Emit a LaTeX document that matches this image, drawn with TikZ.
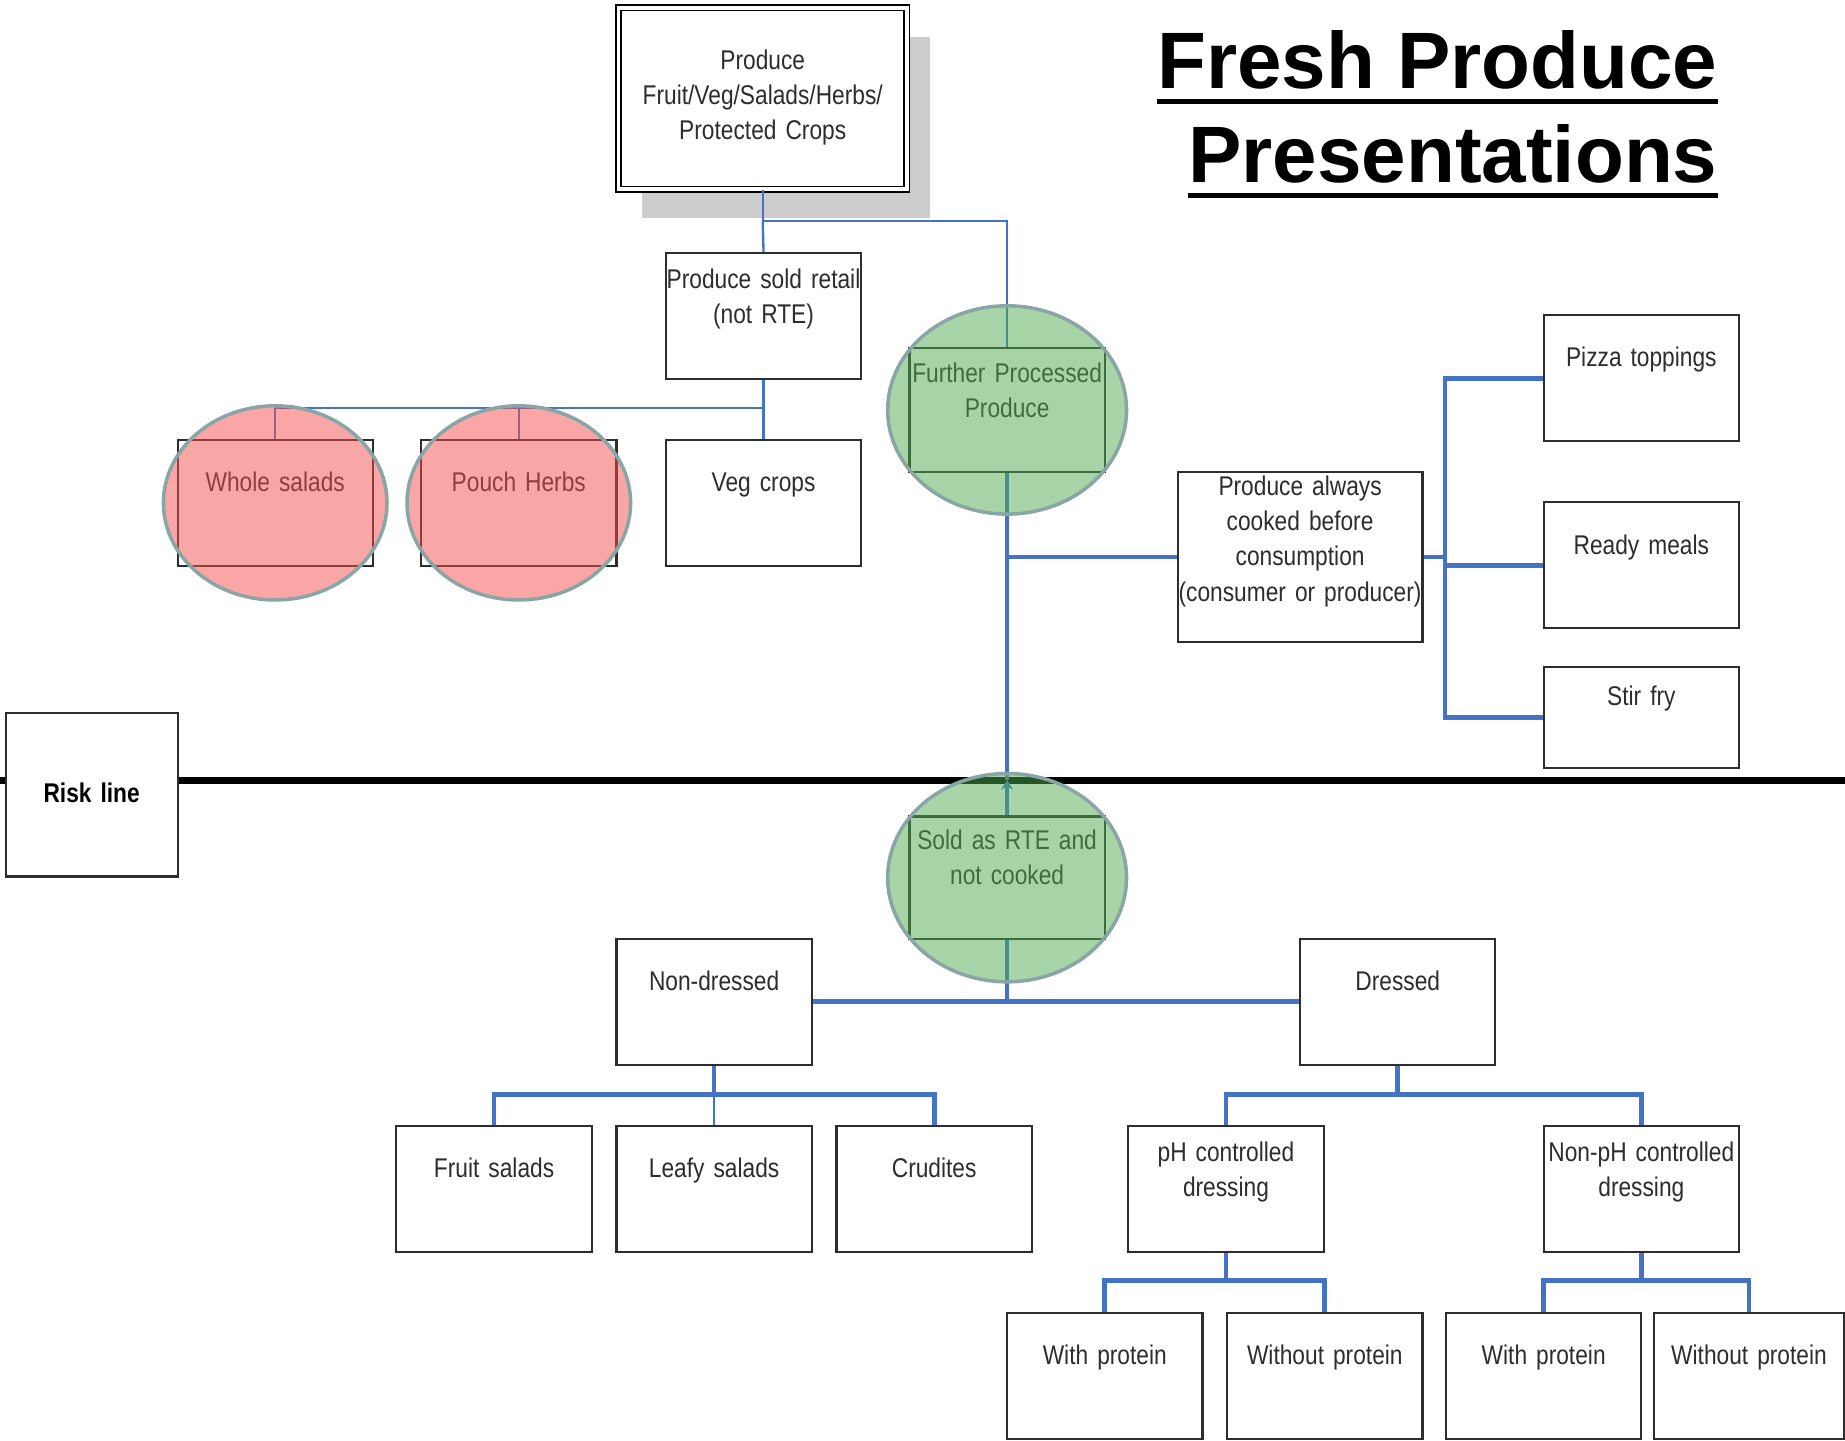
\documentclass[tikz,border=0pt]{standalone}
\usepackage{fontspec}
\setmainfont{Liberation Sans}
\newfontfamily\boxfont{Liberation Sans}[FakeStretch=0.84]
\usepackage{xcolor}
\usetikzlibrary{shapes,arrows,positioning,calc,shadows,arrows.meta}

\definecolor{linkblue}{RGB}{68,114,196}
\definecolor{boxgray}{RGB}{45,45,45}
\definecolor{shadowgray}{RGB}{204,204,204}
\definecolor{pinkfill}{RGB}{245,78,78}
\definecolor{greenfill}{RGB}{81,171,81}
\definecolor{ringgray}{RGB}{138,165,165}

\begin{document}
\begin{tikzpicture}[x=0.5pt, y=-0.5pt,
    bx/.style={draw=boxgray, line width=0.9pt, fill=white, text=boxgray,
        text width=83pt, align=center, inner sep=0pt, anchor=north west,
        font=\boxfont\fontsize{11.5pt}{15pt}\selectfont},
    onel/.style={bx, text height=22pt, text depth=31.5pt},
    twol/.style={bx, text height=15pt, text depth=38.5pt},
    ln/.style={draw=linkblue, line width=1pt},
    lnb/.style={draw=linkblue, line width=2pt},
    pinkov/.style={ellipse, draw=ringgray, line width=1.5pt, fill=pinkfill, fill opacity=0.5,
        minimum width=95pt, minimum height=82.5pt, inner sep=0pt},
    greenov/.style={ellipse, draw=ringgray, line width=1.5pt, fill=greenfill, fill opacity=0.5,
        minimum width=101.5pt, minimum height=88.5pt, inner sep=0pt},
    title/.style={anchor=base east, inner sep=0pt, font=\fontsize{34pt}{40pt}\selectfont\bfseries}]
\useasboundingbox (0,0) rectangle (1568,1224);

% Title
\node[title] (t1) at (1460,75) {Fresh Produce};
\node[title] (t2) at (1460,155) {Presentations};
\draw[line width=2pt] ([yshift=-5.5pt]t1.base west) -- ([yshift=-5.5pt]t1.base east);
\draw[line width=2pt] ([yshift=-5.5pt]t2.base west) -- ([yshift=-5.5pt]t2.base east);

% Risk line
\coordinate (riskL) at (0,663);
\coordinate (riskR) at (1568,663);
\draw[line width=3pt] (riskL) -- (riskR);
\node[bx, text width=73pt, text height=38pt, text depth=31.5pt,
    font=\boxfont\fontsize{11.5pt}{15pt}\selectfont\bfseries, text=black] (risk) at (4,605) {Risk line};

% Top part
\node[bx, text width=122.5pt, text height=26pt, text depth=51pt, draw=black,
    line width=0.7pt, double=white, double distance=1.6pt,
    drop shadow={shadow xshift=10pt, shadow yshift=-12.5pt, fill=shadowgray, opacity=1}]
    (top) at (525,6) {Produce\\Fruit/Veg/Salads/Herbs/\\Protected Crops};
\node[twol] (pst) at (565,214) {Produce sold retail\\(not RTE)};
\node[twol, text height=14.5pt, text depth=38pt] (fpp) at (772,295) {Further Processed\\Produce};
\node[onel] (ws) at (150,373) {Whole salads};
\node[onel] (ph) at (357,373) {Pouch Herbs};
\node[onel] (veg) at (565,373) {Veg crops};

% Cooked branch
\node[bx, text width=104pt, text height=10pt, text depth=62.5pt] (pac) at (1000,400)
    {Produce always\\cooked before\\consumption\\(consumer or producer)};
\node[onel] (pizza) at (1311,267) {Pizza toppings};
\node[onel] (ready) at (1311,426) {Ready meals};
\node[bx, text height=16.5pt, text depth=26.5pt] (stir) at (1311,566) {Stir fry};

% RTE part
\node[twol, text height=14pt, text depth=38pt] (sold) at (772,693) {Sold as RTE and\\not cooked};
\node[onel] (nond) at (523,797) {Non-dressed};
\node[onel] (dres) at (1104,797) {Dressed};
\node[onel] (fruit) at (336,956) {Fruit salads};
\node[onel] (leafy) at (523,956) {Leafy salads};
\node[onel] (crud) at (710,956) {Crudites};
\node[twol] (phc) at (958,956) {pH controlled\\dressing};
\node[twol] (nphc) at (1311,956) {Non-pH controlled\\dressing};
\node[onel] (wp1) at (855,1115) {With protein};
\node[onel] (wo1) at (1042,1115) {Without protein};
\node[onel] (wp2) at (1228,1115) {With protein};
\node[onel, text width=80.5pt] (wo2) at (1405,1115) {Without protein};

% Connectors
\coordinate (j1) at (top.south |- 0,188);
\coordinate (j2) at (pst.south |- 0,347);
\coordinate (j3) at (fpp.south |- pac.west);
\coordinate (j4) at (1228,0 |- pac.east);
\coordinate (riskc) at (fpp.south |- riskL);
\coordinate (j5) at (sold.south |- nond.east);
\coordinate (j6) at (nond.south |- 0,930);
\coordinate (j7) at (dres.south |- 0,930);
\coordinate (j8) at (phc.south |- 0,1088);
\coordinate (j9) at (nphc.south |- 0,1088);

\draw[ln] (top.south) -- (j1) -| (fpp.north);
\draw[ln] (j1) -- (pst.north);
\draw[ln] (pst.south) -- (j2) -| (ws.north);
\draw[ln] (j2) -| (ph.north);
\draw[ln] (j2) -- (veg.north);

\draw[lnb] (fpp.south) -- (riskc);
\draw[lnb, -{Stealth[length=4pt,width=5pt]}] (sold.north) -- (riskc);
\draw[lnb] (j3) -- (pac.west);
\draw[lnb] (pac.east) -- (j4);
\draw[lnb] (pizza.west) -| (j4) |- (stir.west);
\draw[lnb] (ready.west) -- (ready.west -| j4);

\draw[lnb] (sold.south) -- (j5);
\draw[lnb] (nond.east) -- (dres.west);
\draw[lnb] (nond.south) -- (j6);
\draw[lnb] (fruit.north) |- (j6) -| (crud.north);
\draw[ln] (j6) -- (leafy.north);
\draw[lnb] (dres.south) -- (j7);
\draw[lnb] (phc.north) |- (j7) -| (nphc.north);
\draw[lnb] (phc.south) -- (j8);
\draw[lnb] (wp1.north) |- (j8) -| (wo1.north);
\draw[lnb] (nphc.south) -- (j9);
\draw[lnb] (wp2.north) |- (j9) -| (wo2.north);

% Highlight rings
\node[pinkov] (wsc) at (ws.center) {};
\node[pinkov] (phcirc) at (ph.center) {};
\node[greenov] (fppc) at (fpp.center) {};
\node[greenov] (soldc) at (sold.center) {};
\end{tikzpicture}
\end{document}
